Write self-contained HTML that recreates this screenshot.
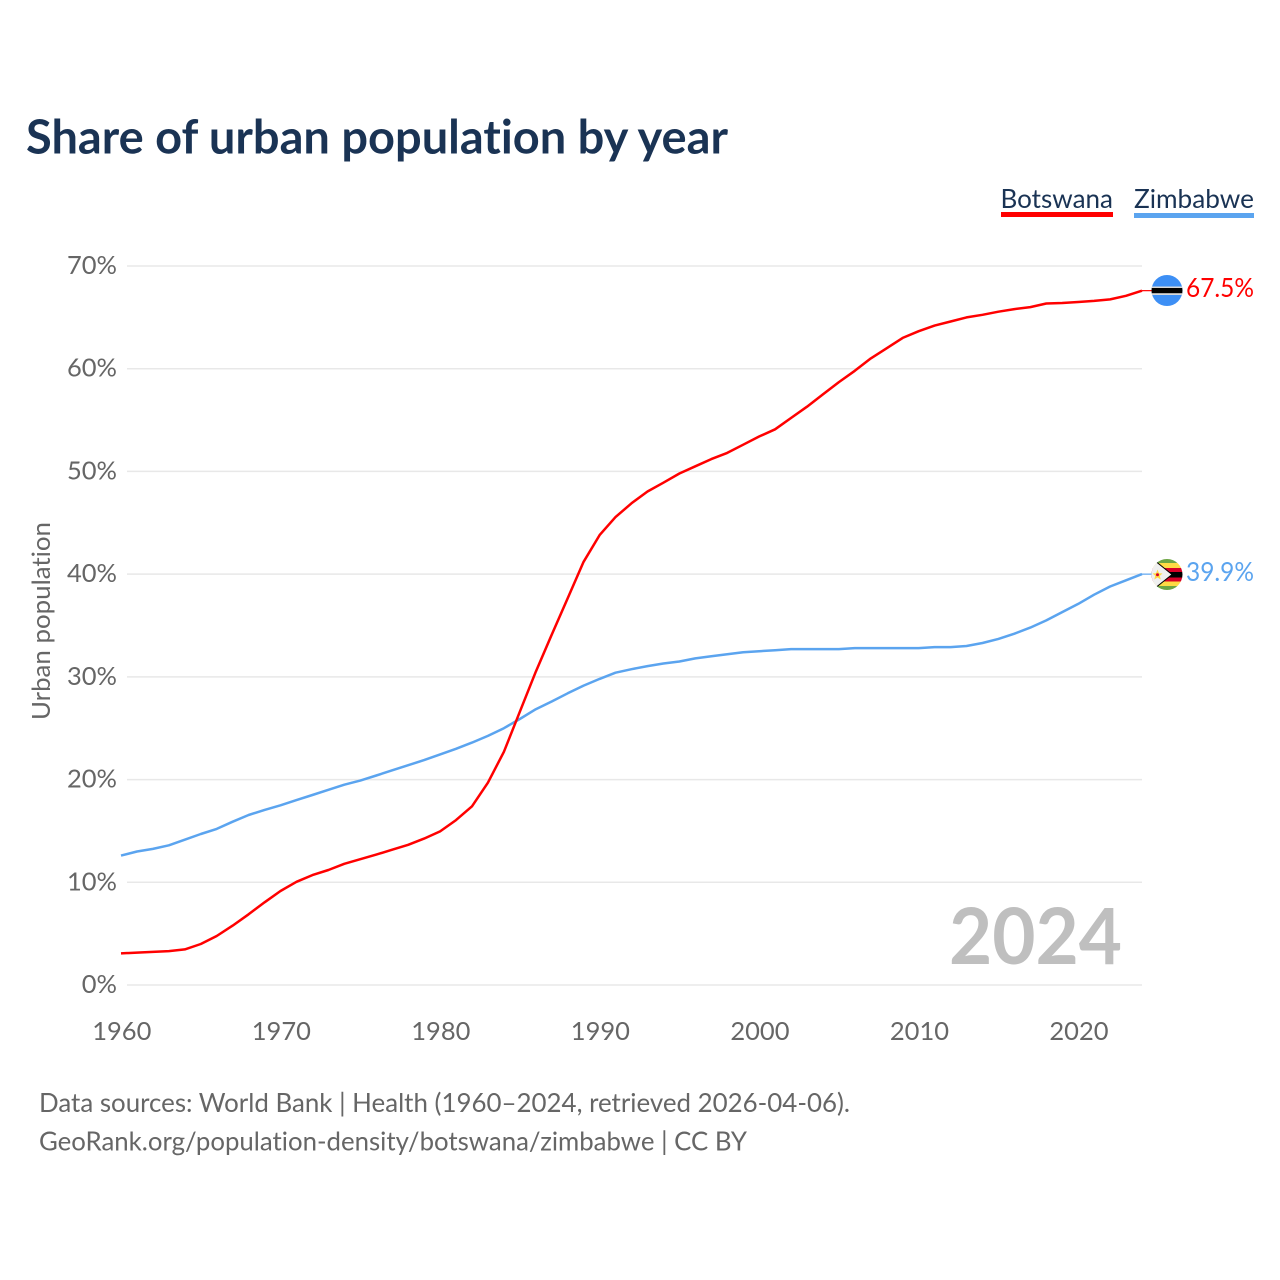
<!DOCTYPE html>
<html>
<head>
<meta charset="utf-8">
<title>Share of urban population by year</title>
<style>
html,body{margin:0;padding:0;background:#fff;width:1280px;height:1280px;overflow:hidden}
svg{display:block}
text{font-family:"Lato","Carlito","Liberation Sans",sans-serif;font-variant-ligatures:none}
</style>
</head>
<body>
<svg id="chart" width="1280" height="1280" viewBox="0 0 1280 1280" xmlns="http://www.w3.org/2000/svg">
  <defs>
    <clipPath id="clip-bw"><circle cx="1167" cy="290.5" r="15.5"/></clipPath>
    <clipPath id="clip-zw"><circle cx="1167" cy="574.5" r="15.5"/></clipPath>
  </defs>
  <text x="26" y="153.5" font-size="47" font-weight="700" fill="#1a3354" textLength="702" lengthAdjust="spacingAndGlyphs">Share of urban population by year</text>

  <g>
    <text x="1000.5" y="208" font-size="26" fill="#1a3354" textLength="112.5" lengthAdjust="spacingAndGlyphs">Botswana</text>
    <rect x="1001" y="212" width="112" height="5" fill="#ff0000"/>
  </g>
  <g>
    <text x="1134" y="208" font-size="26" fill="#1a3354" textLength="120" lengthAdjust="spacingAndGlyphs">Zimbabwe</text>
    <rect x="1134" y="213" width="120" height="5" fill="#5ba4ef"/>
  </g>

  <g id="grid"></g>
  <g id="y-ticks"></g>
  <g id="x-ticks"></g>
  <text transform="translate(50,621) rotate(-90)" text-anchor="middle" font-size="25" fill="#666666" textLength="198" lengthAdjust="spacingAndGlyphs">Urban population</text>

  <text x="949" y="964" font-size="78" font-weight="700" fill="#bfbfbf" textLength="173" lengthAdjust="spacingAndGlyphs">2024</text>

  <path id="line-zimbabwe" fill="none" stroke="#5ba4ef" stroke-width="2.5" stroke-linejoin="round"/>
  <path id="line-botswana" fill="none" stroke="#ff0000" stroke-width="2.5" stroke-linejoin="round"/>
  <line id="lead-botswana" stroke="#ff0000" stroke-width="1.2"/>
  <line id="lead-zimbabwe" stroke="#5ba4ef" stroke-width="1.2"/>

  <g clip-path="url(#clip-bw)">
    <rect x="1151" y="274" width="32" height="33" fill="#3d8ff5"/>
    <rect x="1151" y="286.5" width="32" height="8.5" fill="#d8d8d8"/>
    <rect x="1151" y="288" width="32" height="5.2" fill="#000000"/>
  </g>

  <g clip-path="url(#clip-zw)">
    <rect x="1151" y="558" width="32" height="5" fill="#6da544"/>
    <rect x="1151" y="563" width="32" height="5" fill="#ffda44"/>
    <rect x="1151" y="568" width="32" height="4" fill="#d80027"/>
    <rect x="1151" y="572" width="32" height="5.5" fill="#000000"/>
    <rect x="1151" y="577.5" width="32" height="4" fill="#d80027"/>
    <rect x="1151" y="581.5" width="32" height="4.5" fill="#ffda44"/>
    <rect x="1151" y="586" width="32" height="5" fill="#6da544"/>
    <polygon points="1149,556 1172,574.5 1149,593" fill="#f0f0f0" stroke="#000000" stroke-width="1"/>
    <polygon points="1157.5,569.5 1159,573.2 1162.5,573.5 1159.8,575.8 1160.7,579.5 1157.5,577.5 1154.3,579.5 1155.2,575.8 1152.5,573.5 1156,573.2" fill="#ffda44"/>
    <circle cx="1157.5" cy="574.8" r="1.5" fill="#d80027"/>
  </g>

  <text id="value-botswana" x="1186" y="297" font-size="26" fill="#ff0000" textLength="68" lengthAdjust="spacingAndGlyphs"></text>
  <text id="value-zimbabwe" x="1186" y="581" font-size="26" fill="#5ba4ef" textLength="68" lengthAdjust="spacingAndGlyphs"></text>

  <text x="39" y="1111.8" font-size="26" fill="#666666" textLength="811" lengthAdjust="spacingAndGlyphs">Data sources: World Bank | Health (1960–2024, retrieved 2026-04-06).</text>
  <text x="39" y="1150.7" font-size="26" fill="#666666" textLength="708" lengthAdjust="spacingAndGlyphs">GeoRank.org/population-density/botswana/zimbabwe | CC BY</text>
</svg>
<script>
const startYear = 1960;
const yTicks = [0, 10, 20, 30, 40, 50, 60, 70];
const xTicks = [1960, 1970, 1980, 1990, 2000, 2010, 2020];
const botswana = [3.08, 3.15, 3.22, 3.3, 3.47, 3.99, 4.77, 5.78, 6.88, 8.05,
  9.15, 10.05, 10.7, 11.2, 11.8, 12.25, 12.7, 13.17, 13.65, 14.25,
  14.95, 16.05, 17.4, 19.7, 22.7, 26.6, 30.5, 34.1, 37.65, 41.2,
  43.8, 45.55, 46.9, 48.05, 48.9, 49.8, 50.5, 51.2, 51.8, 52.6,
  53.4, 54.1, 55.2, 56.3, 57.5, 58.7, 59.8, 61.0, 62.0, 63.0,
  63.65, 64.2, 64.6, 65.0, 65.25, 65.55, 65.8, 66.0, 66.35, 66.4,
  66.5, 66.6, 66.75, 67.1, 67.6];
const zimbabwe = [12.6, 13.0, 13.25, 13.6, 14.15, 14.7, 15.2, 15.9, 16.55, 17.05,
  17.5, 18.0, 18.5, 19.0, 19.5, 19.9, 20.4, 20.9, 21.4, 21.9,
  22.45, 23.0, 23.6, 24.25, 25.0, 25.9, 26.85, 27.6, 28.4, 29.15,
  29.8, 30.4, 30.75, 31.05, 31.3, 31.5, 31.8, 32.0, 32.2, 32.4,
  32.5, 32.6, 32.7, 32.7, 32.7, 32.7, 32.8, 32.8, 32.8, 32.8,
  32.8, 32.9, 32.9, 33.0, 33.3, 33.7, 34.2, 34.8, 35.5, 36.3,
  37.1, 38.0, 38.8, 39.4, 40.0];
const botswanaLabel = "67.5%";
const zimbabweLabel = "39.9%";

const SVGNS = "http://www.w3.org/2000/svg";
function xScale(year) { return 121 + (year - 1960) * (1142 - 121) / 64; }
function yScale(v) { return 985 - v * (985 - 266) / 70; }
function make(tag, attrs, parent) {
  const el = document.createElementNS(SVGNS, tag);
  for (const k in attrs) el.setAttribute(k, attrs[k]);
  parent.appendChild(el);
  return el;
}
const gridG = document.getElementById("grid");
const yG = document.getElementById("y-ticks");
const xG = document.getElementById("x-ticks");
yTicks.forEach(function (t) {
  const line = make("line", {x1: 127, x2: 1142, y1: yScale(t), y2: yScale(t), stroke: "#e8e8e8", "stroke-width": 1.5}, gridG);
  
  
  const label = make("text", {x: 117, y: yScale(t) + 8, "text-anchor": "end", "font-size": 25.5, fill: "#666666"}, yG);
  
  
  label.textContent = t + "%";
});
xTicks.forEach(function (t) {
  const label = make("text", {x: xScale(t) + 0.8, y: 1040, "text-anchor": "middle", "font-size": 25.5, fill: "#666666"}, xG);
  
  
  label.textContent = t;
});
function linePath(values) {
  return values.map(function (v, i) {
    return (i ? "L" : "M") + xScale(startYear + i).toFixed(1) + " " + yScale(v).toFixed(1);
  }).join("");
}
document.getElementById("line-botswana").setAttribute("d", linePath(botswana));
document.getElementById("line-zimbabwe").setAttribute("d", linePath(zimbabwe));
function leader(id, values) {
  const el = document.getElementById(id);
  const y = yScale(values[values.length - 1]);
  el.setAttribute("x1", xScale(startYear + values.length - 1));
  el.setAttribute("x2", 1152);
  el.setAttribute("y1", y);
  el.setAttribute("y2", y);
}
leader("lead-botswana", botswana);
leader("lead-zimbabwe", zimbabwe);
document.getElementById("value-botswana").textContent = botswanaLabel;
document.getElementById("value-zimbabwe").textContent = zimbabweLabel;
</script>
</body>
</html>
